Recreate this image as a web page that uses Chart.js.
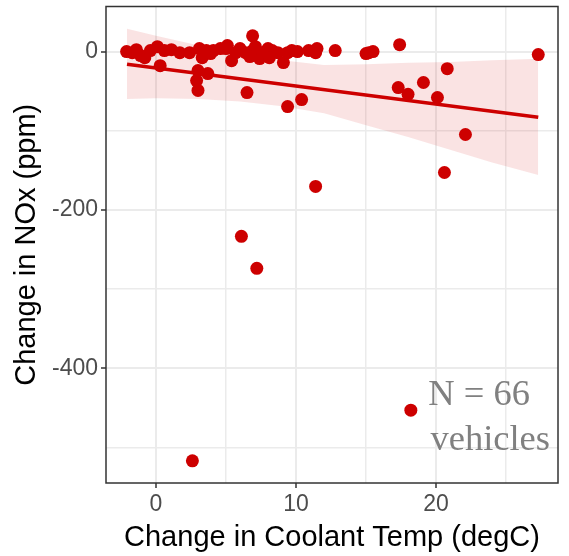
<!DOCTYPE html>
<html>
<head>
<meta charset="utf-8">
<script src="https://cdn.jsdelivr.net/npm/chart.js@4"></script>
<style>
  html, body { margin: 0; padding: 0; background: #fff; }
  #wrap { width: 569px; height: 556px; }
</style>
</head>
<body>
<div id="wrap"><canvas id="grafico"></canvas></div>
<script>
// Datos
const coolantTemp = [-2.1, -1.4, -0.8, 0.1, 0.3, 0.6, 1.1, 1.7, 3.1, 3.3, 3.0, 2.9, 3.0, 3.9, 3.7, 4.1, 4.6, 5.1, 5.4, 6.0,
  6.9, 6.9, 7.4, 8.0, 9.1, 9.4, 10.1, 10.9, 11.5, 12.8, 15.0, 15.5, 17.4, 17.3, 18.0, 19.1, 20.1, 20.8, 27.3, 22.1,
  20.6, 6.5, 9.4, 10.4, 11.4, 6.1, 7.2, 18.2, 2.6, -1.1, 2.4, 5.0, 6.4, 7.1, 7.6, 8.3, 8.7, 9.7, 11.4, 3.6,
  5.7, -0.4, -1.7, 15.2, 6.7, 8.1];
const noxChange = [0, 2.5, -7.6, 6.3, -17.7, 1.3, 2.5, -1.3, 3.8, -7.6, -24, -36.6, -49, -2.5, -27.8, 1.3, 3.8, 7.6, -11.4, 3.8,
  20, 1.3, -8.8, 3.8, -13.9, -1.3, 0, 1.3, 3.8, 1.3, -2.5, 0, 8.8, -45.4, -54, -39, -58, -21.5, -3.8, -104.7,
  -152.7, -51.7, -69.4, -60.6, -170.3, -233.4, -273.8, -453, -517, -5, -1.3, 3.8, -1.3, 6.3, -1.3, 1.3, -1.3, 1.3, -1.3, 1.3,
  -1.3, 1.3, -1.3, -1.3, -6.3, -7.6];

// Recta de ajuste y banda de confianza
const fitX = [-2.07, 27.3];
const fitY = [-16, -83];
const bandX = [-2.07, 0, 3, 6, 9, 12, 15, 18, 21, 24, 27.3];
const bandUpper = [29, 20, 8, -3, -11, -17, -16, -14, -13, -11, -9];
const bandLower = [-60, -59, -60, -63, -69, -78, -93, -108, -124, -140, -156];

const xTicks = [0, 5, 10, 15, 20, 25];
const xLabels = [0, 10, 20];
const yTicks = [-500, -400, -300, -200, -100, 0];
const yLabels = [-400, -200, 0];

const rojo = '#CD0000';

const puntos = coolantTemp.map((x, i) => ({ x: x, y: noxChange[i] }));
const ajuste = fitX.map((x, i) => ({ x: x, y: fitY[i] }));
const arriba = bandX.map((x, i) => ({ x: x, y: bandUpper[i] }));
const abajo = bandX.map((x, i) => ({ x: x, y: bandLower[i] }));

// Marco del panel y texto de anotación
const panelPlugin = {
  id: 'panel',
  afterDraw(chart) {
    const { ctx, chartArea: a, scales } = chart;
    ctx.save();
    ctx.strokeStyle = '#333333';
    ctx.lineWidth = 1.5;
    ctx.strokeRect(a.left, a.top, a.right - a.left, a.bottom - a.top);
    ctx.fillStyle = '#808080';
    ctx.font = '36.5px "Liberation Serif", "Times New Roman", serif';
    ctx.textBaseline = 'alphabetic';
    ctx.textAlign = 'left';
    ctx.fillText('N = 66', scales.x.getPixelForValue(19.45), scales.y.getPixelForValue(-447));
    ctx.fillText('vehicles', scales.x.getPixelForValue(19.6), scales.y.getPixelForValue(-503));
    ctx.restore();
  }
};

new Chart(document.getElementById('grafico'), {
  type: 'scatter',
  data: {
    datasets: [
      {
        type: 'line', data: arriba, borderWidth: 0, pointRadius: 0,
        backgroundColor: 'rgba(205,0,0,0.11)', fill: '+1', order: 3
      },
      {
        type: 'line', data: abajo, borderWidth: 0, pointRadius: 0, fill: false, order: 3
      },
      {
        type: 'line', data: ajuste, borderColor: rojo, borderWidth: 3.5, pointRadius: 0, fill: false, order: 2
      },
      {
        data: puntos, backgroundColor: rojo, borderColor: rojo, borderWidth: 0, pointRadius: 6.5, order: 1
      }
    ]
  },
  options: {
    responsive: true,
    maintainAspectRatio: false,
    animation: false,
    layout: { padding: { left: 0, right: 11, top: 6, bottom: 0 } },
    plugins: { legend: { display: false }, tooltip: { enabled: false } },
    scales: {
      x: {
        type: 'linear', min: -3.57, max: 28.71,
        afterBuildTicks: s => { s.ticks = xTicks.map(v => ({ value: v })); },
        afterFit: s => { s.height = 73; s.paddingLeft = 0; s.paddingRight = 0; },
        grid: {
          color: '#EBEBEB',
          lineWidth: c => (c.tick && xLabels.includes(c.tick.value)) ? 2 : 1.5,
          tickColor: c => (c.tick && xLabels.includes(c.tick.value)) ? '#333333' : 'rgba(0,0,0,0)',
          tickLength: 5, tickWidth: 1.5
        },
        border: { display: false },
        ticks: {
          color: '#4D4D4D', padding: 3, maxRotation: 0, autoSkip: false,
          font: { family: '"Liberation Sans", Arial, sans-serif', size: 23 },
          callback: v => xLabels.includes(v) ? String(v) : ''
        },
        title: {
          display: true, text: 'Change in Coolant Temp (degC)', color: '#000',
          font: { family: '"Liberation Sans", Arial, sans-serif', size: 29 },
          padding: { top: 0, bottom: 1 }
        }
      },
      y: {
        type: 'linear', min: -545, max: 57,
        afterBuildTicks: s => { s.ticks = yTicks.map(v => ({ value: v })); },
        afterFit: s => { s.width = 106; s.paddingTop = 0; s.paddingBottom = 0; },
        grid: {
          color: '#EBEBEB',
          lineWidth: c => (c.tick && yLabels.includes(c.tick.value)) ? 2 : 1.5,
          tickColor: c => (c.tick && yLabels.includes(c.tick.value)) ? '#333333' : 'rgba(0,0,0,0)',
          tickLength: 5, tickWidth: 1.5
        },
        border: { display: false },
        ticks: {
          color: '#4D4D4D', padding: 3, autoSkip: false,
          font: { family: '"Liberation Sans", Arial, sans-serif', size: 23 },
          callback: v => yLabels.includes(v) ? String(v) : ''
        },
        title: {
          display: true, text: 'Change in NOx (ppm)', color: '#000',
          font: { family: '"Liberation Sans", Arial, sans-serif', size: 29 },
          padding: { top: 10, bottom: 0 }
        }
      }
    }
  },
  plugins: [panelPlugin]
});
</script>
</body>
</html>
